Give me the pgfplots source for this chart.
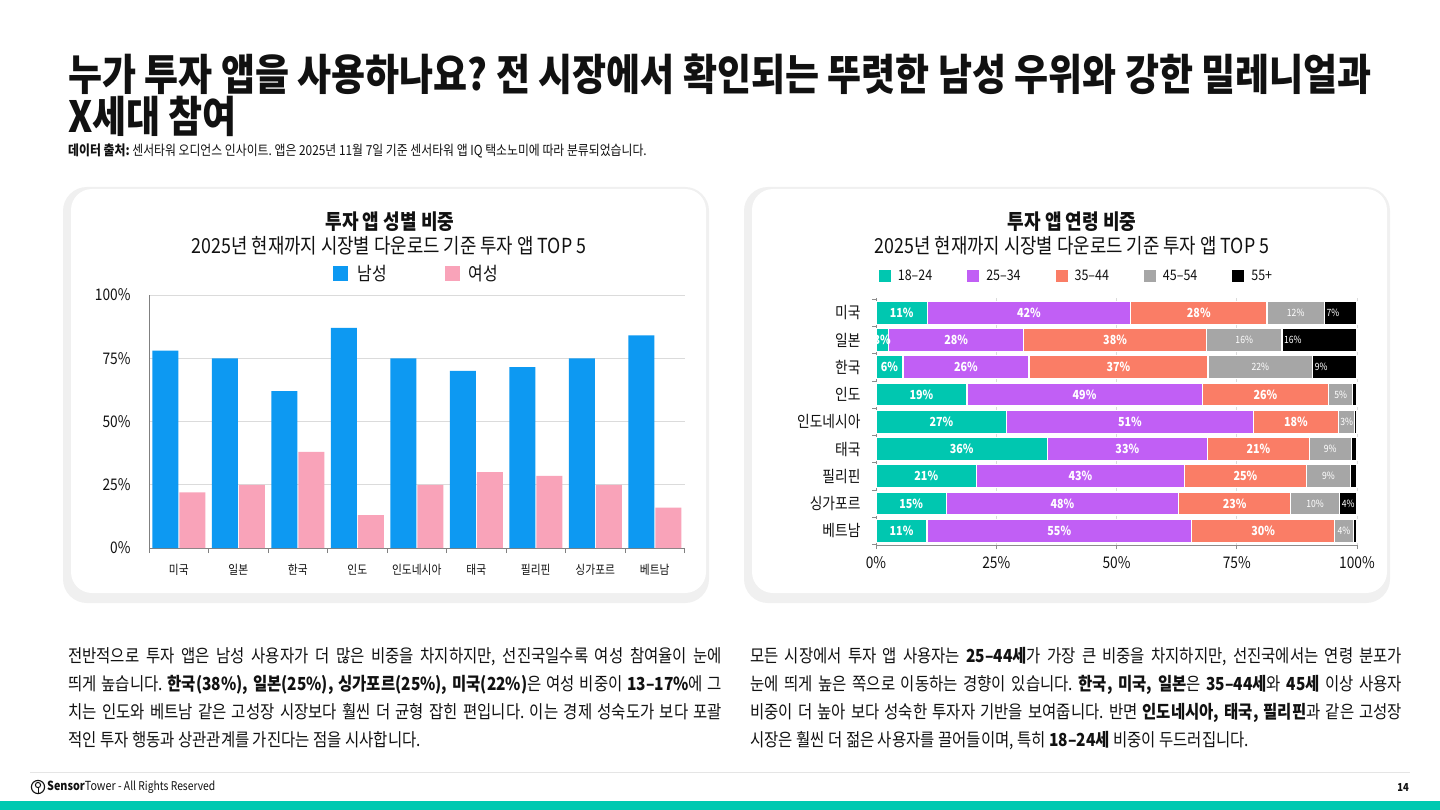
\documentclass[border=0pt]{standalone}
\usepackage{fontspec}
\setmainfont{Noto Sans CJK KR}[FakeStretch=0.86]
\usepackage{pgfplots}
\pgfplotsset{compat=1.18}
\usepackage{pgfplotstable}
\frenchspacing

\definecolor{ink}{HTML}{111111}
\definecolor{male}{HTML}{0D99F2}
\definecolor{female}{HTML}{F9A3B9}
\definecolor{ageA}{HTML}{00C7B0}
\definecolor{ageB}{HTML}{C15FF5}
\definecolor{ageC}{HTML}{FA7D66}
\definecolor{ageD}{HTML}{A6A6A6}
\definecolor{ageE}{HTML}{000000}
\definecolor{brand}{HTML}{00C9B1}

\newcommand{\fs}[1]{\fontsize{#1}{#1}\selectfont}

% 성별 비중 (%): 남성, 여성
\pgfplotstableread{
pos male female
0 78   22
1 75   25
2 62   38
3 87   13
4 75   25
5 70   30
6 71.5 28.5
7 75   25
8 84   16
}\gendertable

% 연령 비중 (%): pos 8 = 미국 ... pos 0 = 베트남
\pgfplotstableread{
pos a b c d e
8 10.7 42.2 28.4 11.9 6.8
7 2.6 28.1 38.0 15.7 15.6
6 5.6 26.2 37.2 21.8 9.2
5 18.9 48.9 26.3 5.0 0.9
4 27.2 51.2 17.8 3.3 0.5
3 35.6 33.3 21.2 8.7 1.2
2 20.9 43.2 25.4 9.1 1.4
1 14.6 48.3 23.3 10.2 3.6
0 10.6 55.0 29.8 3.8 0.8
}\agetable

% label anchors: segment centres, and the start of the 55+ segment
\pgfplotstablecreatecol[create col/expr={\thisrow{a}/2}]{ma}{\agetable}
\pgfplotstablecreatecol[create col/expr={\thisrow{a}+\thisrow{b}/2}]{mb}{\agetable}
\pgfplotstablecreatecol[create col/expr={\thisrow{a}+\thisrow{b}+\thisrow{c}/2}]{mc}{\agetable}
\pgfplotstablecreatecol[create col/expr={\thisrow{a}+\thisrow{b}+\thisrow{c}+\thisrow{d}/2}]{md}{\agetable}
\pgfplotstablecreatecol[create col/expr={\thisrow{a}+\thisrow{b}+\thisrow{c}+\thisrow{d}}]{se}{\agetable}

\pgfplotsset{
  % square legend swatches
  sqlegL/.style={legend image code/.code={\path[##1,draw=none] (0pt,-7.5pt) rectangle (15pt,7.5pt);}},
  sqlegR/.style={legend image code/.code={\path[##1,draw=none] (0pt,-6pt) rectangle (12pt,6pt);}},
  % white value label for one age column (#1)
  seglab/.style n args={3}{
    draw=none, mark=none,
    x filter/.expression={\thisrow{#1}<2.5 ? nan : x},
    point meta=explicit,
    nodes near coords={\pgfmathprintnumber[fixed,precision=0]{\pgfplotspointmeta}\%},
    every node near coord/.append style={anchor=#2, text=white, font=#3, inner sep=0pt},
  },
}

\begin{document}
\begin{tikzpicture}
\begin{scope}[x=1pt,y=-1pt]
  \path[use as bounding box, fill=white] (0,0) rectangle (1440,810);

  % heading
  \node[anchor=base west, inner sep=0, text=ink, font=\fs{43}\bfseries] at (68,91)
    {누가 투자 앱을 사용하나요? 전 시장에서 확인되는 뚜렷한 남성 우위와 강한 밀레니얼과};
  \node[anchor=base west, inner sep=0, text=ink, font=\fs{43}\bfseries] at (68,133)
    {X세대 참여};
  \node[anchor=base west, inner sep=0, text=ink, font=\fs{13.8}] at (68,156)
    {\textbf{데이터 출처:} 센서타워 오디언스 인사이트. 앱은 2025년 11월 7일 기준 센서타워 앱 IQ 택소노미에 따라 분류되었습니다.};

  % chart panels
  \fill[black!6, rounded corners=24] (63,187) rectangle (709,603);
  \fill[white, rounded corners=21] (71,189) rectangle (706,593);
  \fill[black!6, rounded corners=24] (744,187) rectangle (1390,603);
  \fill[white, rounded corners=21] (752,189) rectangle (1387,593);

  % chart headings
  \node[anchor=base, inner sep=0, text=ink, font=\fs{21}\bfseries] at (390,230) {투자 앱 성별 비중};
  \node[anchor=base, inner sep=0, text=ink, font=\fs{20.7}] at (389,254) {2025년 현재까지 시장별 다운로드 기준 투자 앱 TOP 5};
  \node[anchor=base, inner sep=0, text=ink, font=\fs{21}\bfseries] at (1072,230) {투자 앱 연령 비중};
  \node[anchor=base, inner sep=0, text=ink, font=\fs{20.7}] at (1072,254) {2025년 현재까지 시장별 다운로드 기준 투자 앱 TOP 5};

  % commentary, left
  \begin{scope}[every node/.style={anchor=base west, inner sep=0, text=ink, font=\fs{18}}]
  \node at (68,662) {\makebox[654pt][s]{전반적으로 투자 앱은 남성 사용자가 더 많은 비중을 차지하지만, 선진국일수록 여성 참여율이 눈에}};
  \node at (68,690) {\makebox[654pt][s]{띄게 높습니다. \textbf{한국(38\%), 일본(25\%), 싱가포르(25\%), 미국(22\%)}은 여성 비중이 \textbf{13–17\%}에 그}};
  \node at (68,718) {\makebox[654pt][s]{치는 인도와 베트남 같은 고성장 시장보다 훨씬 더 균형 잡힌 편입니다. 이는 경제 성숙도가 보다 포괄}};
  \node at (68,746) {적인 투자 행동과 상관관계를 가진다는 점을 시사합니다.};
  % commentary, right
  \node at (750,662) {\makebox[652pt][s]{모든 시장에서 투자 앱 사용자는 \textbf{25–44세}가 가장 큰 비중을 차지하지만, 선진국에서는 연령 분포가}};
  \node at (750,690) {\makebox[652pt][s]{눈에 띄게 높은 쪽으로 이동하는 경향이 있습니다. \textbf{한국, 미국, 일본}은 \textbf{35–44세}와 \textbf{45세} 이상 사용자}};
  \node at (750,718) {\makebox[652pt][s]{비중이 더 높아 보다 성숙한 투자자 기반을 보여줍니다. 반면 \textbf{인도네시아, 태국, 필리핀}과 같은 고성장}};
  \node at (750,746) {시장은 훨씬 더 젊은 사용자를 끌어들이며, 특히 \textbf{18–24세} 비중이 두드러집니다.};
  \end{scope}

  % footer
  \draw[black!10, line width=1pt] (30,772) -- (1410,772);
  \fill[brand] (0,801) rectangle (1440,810);
  \draw[ink, line width=1.1pt] (38,787) circle (6.6);
  \draw[ink, line width=1pt] (38,785) circle (2.6);
  \draw[ink, line width=1pt] (38,787.6) -- (38,793.2);
  \node[anchor=west, inner sep=0, text=ink, font=\fs{12.5}] at (47,787.5)
    {\textbf{Sensor}Tower {\fs{12}- All Rights Reserved}};
  \node[anchor=center, inner sep=0, text=ink, font=\fs{11}\bfseries] at (1403,787.5) {14};
\end{scope}

% gender split by market
\begin{axis}[
  at={(149pt,-548pt)}, anchor=south west,
  x=59.5pt, y=2.53pt,
  xmin=-0.5, xmax=8.5, ymin=0, ymax=100,
  axis x line*=bottom, axis y line*=left,
  axis line style={draw=black!50, line width=0.8pt},
  ymajorgrids, grid style={draw=black!14, line width=0.8pt},
  ytick={0,25,50,75,100},
  yticklabel={\pgfmathprintnumber{\tick}\%},
  xtick={0,...,8},
  xticklabels={미국,일본,한국,인도,인도네시아,태국,필리핀,싱가포르,베트남},
  tick align=outside, major tick length=5pt,
  xtick style={draw=none}, ytick style={draw=none},
  extra x ticks={-0.5,0.5,...,8.5},
  extra x tick labels={},
  extra x tick style={xtick style={draw=black!50, line width=0.8pt}},
  /pgf/number format/assume math mode=true,
  xticklabel style={font=\fs{12.5}, text=ink, yshift=-8pt},
  yticklabel style={font=\fs{16}, text=ink, xshift=-10pt},
  legend style={at={(0.5,1)}, anchor=center, xshift=0pt, yshift=21pt, draw=none, fill=none,
    legend columns=2, font=\fs{18.5}, text=ink,
    /tikz/every odd column/.append style={column sep=7pt},
    /tikz/every even column/.append style={column sep=56pt}},
  clip=false,
]
\addplot[ybar, bar width=26pt, bar shift=-13.5pt, fill=male, draw=none, sqlegL]
  table[x=pos, y=male] {\gendertable};
\addplot[ybar, bar width=26pt, bar shift=13.5pt, fill=female, draw=none, sqlegL]
  table[x=pos, y=female] {\gendertable};
\legend{남성,여성}
\end{axis}

% age split by market
\begin{axis}[
  at={(876pt,-545pt)}, anchor=south west,
  x=4.81pt, y=27.25pt,
  xmin=0, xmax=100, ymin=-0.52, ymax=8.55,
  xbar stacked, bar width=23pt,
  axis x line*=bottom, axis y line*=left,
  axis line style={draw=black!45, line width=0.8pt},
  xmajorgrids, grid style={draw=black!14, line width=0.8pt},
  xtick={0,25,50,75,100},
  xticklabel={\pgfmathprintnumber{\tick}\%},
  ytick={0,...,8},
  yticklabels={베트남,싱가포르,필리핀,태국,인도네시아,인도,한국,일본,미국},
  tick align=outside, major tick length=4pt,
  xtick style={draw=black!45, line width=0.8pt},
  ytick style={draw=none},
  extra y ticks={-0.5,0.5,...,8.5},
  extra y tick labels={},
  extra y tick style={ytick style={draw=black!45, line width=0.8pt}},
  /pgf/number format/assume math mode=true,
  xticklabel style={font=\fs{16}, text=ink, yshift=-4pt},
  yticklabel style={font=\fs{16}, text=ink, xshift=-8pt},
  sqlegR,
  legend style={at={(0.5,1)}, anchor=center, xshift=-40pt, yshift=22pt, draw=none, fill=none,
    legend columns=5, font=\fs{14.5}, text=ink,
    /tikz/every odd column/.append style={column sep=5pt},
    /tikz/every even column/.append style={column sep=33pt}},
  clip=false,
]
\addplot[fill=ageA, draw=white, line width=1.2pt] table[x=a, y=pos] {\agetable};
\addplot[fill=ageB, draw=white, line width=1.2pt] table[x=b, y=pos] {\agetable};
\addplot[fill=ageC, draw=white, line width=1.2pt] table[x=c, y=pos] {\agetable};
\addplot[fill=ageD, draw=white, line width=1.2pt] table[x=d, y=pos] {\agetable};
\addplot[fill=ageE, draw=white, line width=1.2pt] table[x=e, y=pos] {\agetable};
\legend{18–24,25–34,35–44,45–54,55+}
\end{axis}

% value labels on the age segments
\begin{axis}[
  at={(876pt,-545pt)}, anchor=south west,
  x=4.81pt, y=27.25pt,
  xmin=0, xmax=100, ymin=-0.52, ymax=8.55,
  hide axis, clip=false,
  /pgf/number format/assume math mode=true,
]
\addplot[seglab={a}{center}{\fs{12.5}\bfseries}] table[x=ma, y=pos, meta=a] {\agetable};
\addplot[seglab={b}{center}{\fs{12.5}\bfseries}] table[x=mb, y=pos, meta=b] {\agetable};
\addplot[seglab={c}{center}{\fs{12.5}\bfseries}] table[x=mc, y=pos, meta=c] {\agetable};
\addplot[seglab={d}{center}{\fs{10}}] table[x=md, y=pos, meta=d] {\agetable};
\addplot[seglab={e}{west}{\fs{10}}, every node near coord/.append style={xshift=2pt}] table[x=se, y=pos, meta=e] {\agetable};
\end{axis}
\end{tikzpicture}
\end{document}
